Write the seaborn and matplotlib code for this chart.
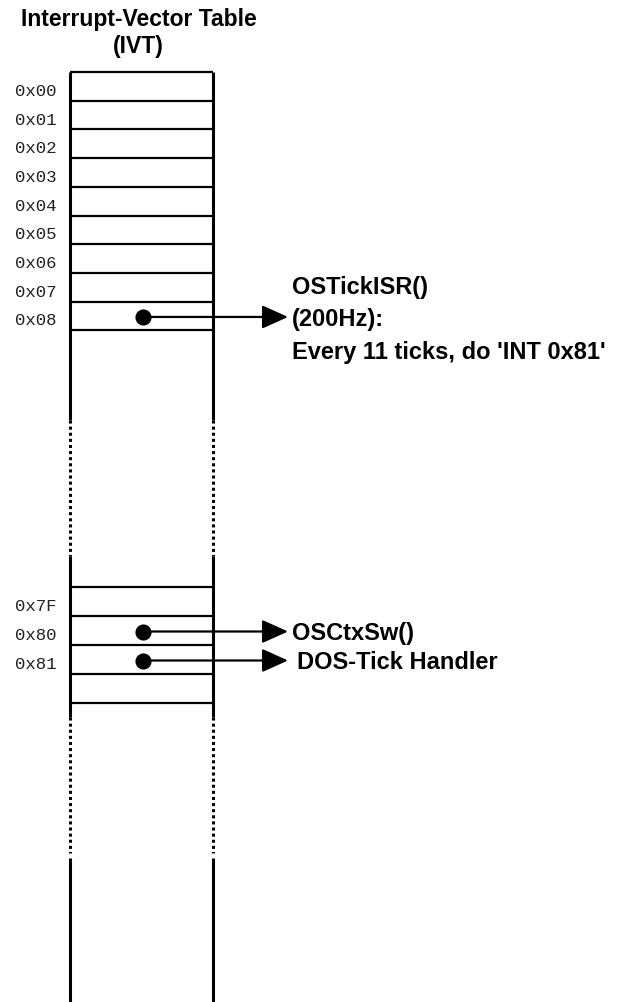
import matplotlib
matplotlib.use("Agg")
import matplotlib.pyplot as plt
import seaborn as sns
import pandas as pd

# DATA
top_addresses = ["0x00", "0x01", "0x02", "0x03", "0x04", "0x05", "0x06", "0x07", "0x08"]
low_addresses = ["0x7F", "0x80", "0x81", ""]
pointer_rows = ["0x08", "0x80", "0x81"]
pointer_targets = ["OSTickISR()\n(200Hz):\nEvery 11 ticks, do 'INT 0x81'",
                   "OSCtxSw()",
                   "DOS-Tick Handler"]
title_lines = ["Interrupt-Vector Table", "(IVT)"]

# LAYOUT (pixel-like units, y grows downward)
W, H = 621, 1002
x_left, x_right = 70, 213
top1, row1 = 72, 28.7
top2, row2 = 587, 29.0
dot_x, tip_x = 143, 288
side_segments = [  # (y0, y1, dotted)
    (top1, 420, False), (420, 556, True), (556, 717, False),
    (717, 853, True), (858, H, False),
]

sns.set_theme(style="white")
plt.rcParams['font.family'] = ['Liberation Sans', 'DejaVu Sans']

fig = plt.figure(figsize=(W / 100, H / 100), dpi=100)
ax = fig.add_axes([0, 0, 1, 1])
ax.set_xlim(0, W)
ax.set_ylim(H, 0)
ax.axis("off")

# row positions
row_y = {}
for i, a in enumerate(top_addresses):
    row_y[a] = (top1 + i * row1, top1 + (i + 1) * row1)
for i, a in enumerate(low_addresses):
    if a:
        row_y[a] = (top2 + i * row2, top2 + (i + 1) * row2)

# horizontal separators
h1 = [top1 + i * row1 for i in range(len(top_addresses) + 1)]
h2 = [top2 + i * row2 for i in range(len(low_addresses) + 1)]
ax.hlines(h1 + h2, x_left, x_right, color="black", lw=1.6)

# sides
for y0, y1, dotted in side_segments:
    ls = (0, (1, 1)) if dotted else "-"
    ax.vlines([x_left, x_right], y0, y1, color="black", lw=2.2, linestyles=[ls])

# address labels
for a, (y0, y1) in row_y.items():
    ax.text(x_left - 14, (y0 + y1) / 2 + 5, a, ha="right", va="center",
            family=["Liberation Mono", "DejaVu Sans Mono"], fontsize=12.5, color="#222222")

# pointers
ptr = pd.DataFrame({"row": pointer_rows, "target": pointer_targets})
ptr["y"] = [sum(row_y[r]) / 2 + 1 for r in ptr["row"]]
ptr["x"] = dot_x
sns.scatterplot(data=ptr, x="x", y="y", s=135, color="black", edgecolor="black",
                linewidth=0, ax=ax, legend=False, zorder=5)
for _, r in ptr.iterrows():
    ax.annotate("", xy=(tip_x, r["y"]), xytext=(dot_x, r["y"]),
                arrowprops=dict(arrowstyle="-|>,head_length=1.0,head_width=0.45",
                                mutation_scale=16, color="black", lw=1.6,
                                shrinkA=0, shrinkB=0))
    lines = r["target"].split("\n")
    if len(lines) == 1:
        xoff = 4 if r["row"] == "0x80" else 9
        ax.text(tip_x + xoff, r["y"] + 2, lines[0], ha="left", va="center",
                fontsize=17, fontweight="bold", color="black")
    else:
        for j, ln in enumerate(lines):
            ax.text(tip_x + 4, r["y"] + 3 + (j - 1) * 32.5, ln, ha="left", va="center",
                    fontsize=17, fontweight="bold", color="black")

# title
for j, t in enumerate(title_lines):
    ax.text((x_left + x_right) / 2 - 3, 19 + j * 27, t, ha="center", va="center",
            fontsize=16.5, fontweight="bold", color="black")

fig.savefig("out.png", dpi=100, facecolor="white")
